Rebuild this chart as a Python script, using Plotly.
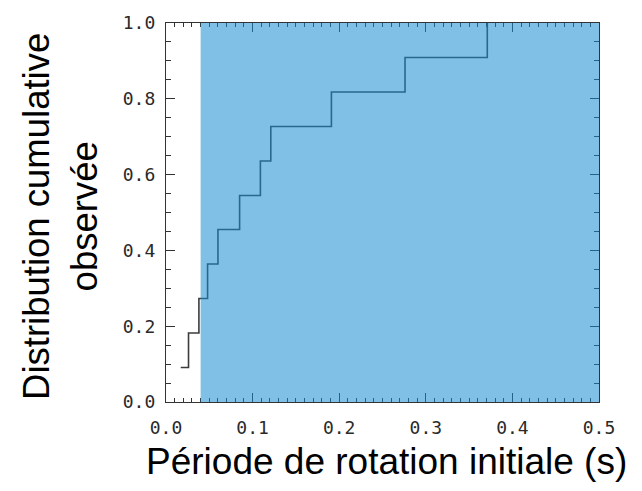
import plotly.graph_objects as go

# Data: initial rotation periods (s) and observed cumulative distribution
periods = [0.017, 0.026, 0.038, 0.048, 0.060, 0.085, 0.109, 0.121, 0.191, 0.276, 0.371]
cdf = [0.091, 0.182, 0.273, 0.364, 0.455, 0.545, 0.636, 0.727, 0.818, 0.909, 1.0]
shaded_x = [0.04, 0.5]
shaded_y = [0.0, 1.0]
x_range = [0.0, 0.5]
y_range = [0.0, 1.0]

W, H = 642, 491
ML, MR, MT, MB = 166, 43, 14, 89

fig = go.Figure()
fig.add_trace(go.Scatter(
    x=periods, y=cdf, mode="lines", line_shape="hv",
    line=dict(color="#3c3c3c", width=1.6), showlegend=False, hoverinfo="skip"))

fig.add_shape(type="rect", xref="x", yref="y",
              x0=shaded_x[0], x1=shaded_x[1], y0=shaded_y[0], y1=shaded_y[1],
              fillcolor="rgb(24,140,210)", opacity=0.55, line_width=0, layer="above")

axis_common = dict(
    showgrid=False, zeroline=False, showline=True, linecolor="#333333", linewidth=1.2,
    mirror="allticks", ticks="inside", ticklen=9, tickwidth=1.3, tickcolor="#333333",
    tickfont=dict(family="DejaVu Sans Mono", size=18, color="#2a2a2a"),
    tickformat=".1f", tickmode="linear", tick0=0,
)
fig.update_xaxes(range=x_range, dtick=0.1,
                 minor=dict(dtick=0.01, tick0=0, ticks="inside", ticklen=4, tickwidth=1.2,
                            tickcolor="#333333", showgrid=False),
                 ticklabelstandoff=9, **axis_common)
fig.update_yaxes(range=y_range, dtick=0.2,
                 minor=dict(dtick=0.05, tick0=0, ticks="inside", ticklen=5, tickwidth=1.2,
                            tickcolor="#333333", showgrid=False),
                 ticklabelstandoff=6, **axis_common)

pw, ph = W - ML - MR, H - MT - MB
fig.add_annotation(text="Période de rotation initiale (s)", xref="paper", yref="paper",
                   x=(386.5 - ML) / pw, y=(H - MB - 463) / ph, xanchor="center", yanchor="middle",
                   showarrow=False, font=dict(family="Liberation Sans", size=37, color="black"))
fig.add_annotation(text="Distribution cumulative<br>observée", xref="paper", yref="paper",
                   x=(60.5 - ML) / pw, y=(H - MB - 212) / ph, xanchor="center", yanchor="middle",
                   textangle=-90, showarrow=False,
                   font=dict(family="Liberation Sans", size=36.5, color="black"))

fig.update_layout(width=W, height=H, margin=dict(l=ML, r=MR, t=MT, b=MB),
                  paper_bgcolor="white", plot_bgcolor="white")
fig.write_html("out.html")
